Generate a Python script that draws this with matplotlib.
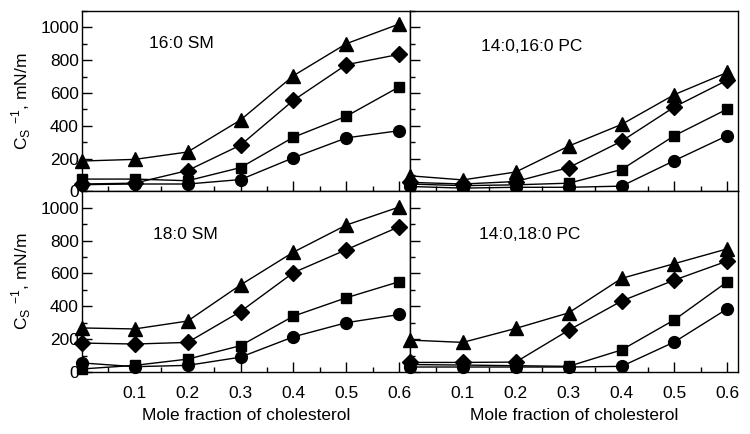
import matplotlib
matplotlib.use("Agg")
import matplotlib.pyplot as plt
from matplotlib.ticker import MultipleLocator

plt.rcParams['font.family'] = ['Liberation Sans', 'DejaVu Sans']
plt.rcParams['mathtext.fontset'] = 'custom'
plt.rcParams['mathtext.rm'] = 'Liberation Sans'

x = [0.0, 0.1, 0.2, 0.3, 0.4, 0.5, 0.6]

# 16:0 SM
sm16_tri = [185, 195, 240, 435, 705, 900, 1020]
sm16_dia = [45, 50, 127, 282, 555, 772, 835]
sm16_sq = [75, 75, 65, 145, 330, 458, 637]
sm16_ci = [41, 45, 45, 72, 205, 326, 370]

# 14:0,16:0 PC
pc16_tri = [95, 70, 118, 276, 408, 590, 725]
pc16_dia = [55, 45, 60, 145, 306, 515, 678]
pc16_sq = [45, 35, 40, 50, 133, 340, 502]
pc16_ci = [30, 20, 25, 25, 32, 188, 340]

# 18:0 SM
sm18_tri = [268, 262, 310, 530, 730, 895, 1005]
sm18_dia = [176, 170, 180, 368, 605, 745, 885]
sm18_sq = [18, 40, 78, 160, 340, 452, 550]
sm18_ci = [55, 32, 40, 90, 214, 300, 350]

# 14:0,18:0 PC
pc18_tri = [194, 180, 265, 360, 570, 660, 750]
pc18_dia = [58, 58, 60, 254, 432, 560, 676]
pc18_sq = [45, 42, 38, 34, 134, 318, 550]
pc18_ci = [30, 30, 30, 30, 34, 183, 385]

panels = [
    ("16:0 SM", [sm16_tri, sm16_dia, sm16_sq, sm16_ci], (0.305, 0.82)),
    ("14:0,16:0 PC", [pc16_tri, pc16_dia, pc16_sq, pc16_ci], (0.37, 0.80)),
    ("18:0 SM", [sm18_tri, sm18_dia, sm18_sq, sm18_ci], (0.315, 0.76)),
    ("14:0,18:0 PC", [pc18_tri, pc18_dia, pc18_sq, pc18_ci], (0.366, 0.76)),
]

markers = [('^', 10.5), ('D', 8.5), ('s', 7.5), ('o', 8.5)]

fig, axes = plt.subplots(2, 2, figsize=(7.5, 4.34), dpi=100, sharex=True, sharey=True)
fig.subplots_adjust(left=0.109, right=0.984, top=0.975, bottom=0.143, wspace=0, hspace=0)

for ax, (name, series, pos) in zip(axes.flat, panels):
    for ys, (m, ms) in zip(series, markers):
        ax.plot(x, ys, color='black', lw=1, marker=m, markersize=ms,
                markerfacecolor='black', markeredgecolor='black', clip_on=False, zorder=3)
    ax.text(pos[0], pos[1], name, transform=ax.transAxes, ha='center', va='center', fontsize=12.5)
    ax.set_xlim(0, 0.62)
    ax.set_ylim(0, 1100)
    ax.xaxis.set_major_locator(MultipleLocator(0.1))
    ax.xaxis.set_minor_locator(MultipleLocator(0.05))
    ax.yaxis.set_major_locator(MultipleLocator(200))
    ax.yaxis.set_minor_locator(MultipleLocator(100))
    ax.tick_params(which='major', direction='in', length=7, width=1, labelsize=12.5)
    ax.tick_params(axis='y', which='major', pad=2)
    ax.tick_params(which='minor', direction='in', length=3.5, width=1)
    for s in ax.spines.values():
        s.set_linewidth(1)

for ax in axes[1]:
    ax.set_xticks([0.1, 0.2, 0.3, 0.4, 0.5, 0.6])
    ax.set_xticklabels(['0.1', '0.2', '0.3', '0.4', '0.5', '0.6'])
    ax.tick_params(axis='x', which='major', pad=10)
    ax.set_xlabel('Mole fraction of cholesterol', fontsize=12.5, labelpad=5)

for ax in axes[:, 0]:
    ax.set_yticks([0, 200, 400, 600, 800, 1000])
    ax.set_ylabel(r'C$_\mathregular{S}$ $^\mathregular{-1}$, mN/m', fontsize=12.5, labelpad=5)

fig.savefig('out.png', dpi=100)
